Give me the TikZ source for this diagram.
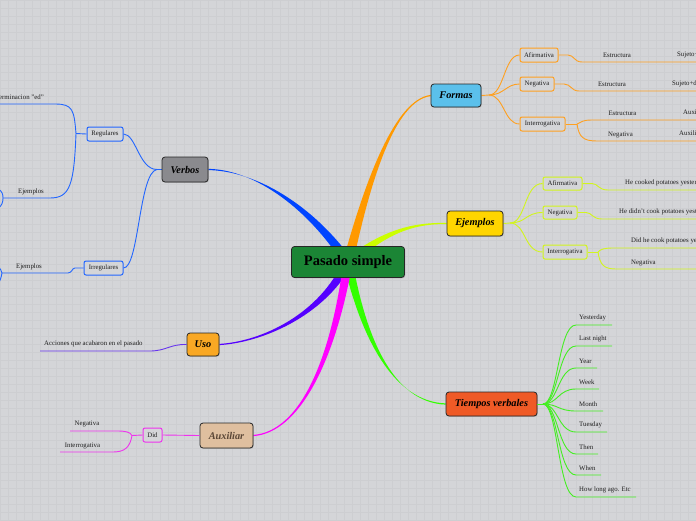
\documentclass[tikz,border=0pt]{standalone}
\usepackage{fontspec}
\setmainfont{Liberation Serif}
\usetikzlibrary{calc,shadows}
\pgfdeclarelayer{bglayer}
\pgfdeclarelayer{branchlayer}
\pgfsetlayers{bglayer,branchlayer,main}
\definecolor{bg}{HTML}{D4D5D8}
\definecolor{gridc}{HTML}{CDCED1}
\definecolor{cforma}{HTML}{FF9900}
\definecolor{cforsub}{HTML}{FFA020}
\definecolor{cejem}{HTML}{CCFF00}
\definecolor{cejsub}{HTML}{D2F51E}
\definecolor{ctiem}{HTML}{33FF00}
\definecolor{ctisub}{HTML}{44EE22}
\definecolor{cverb}{HTML}{0044FF}
\definecolor{cvesub}{HTML}{2266FF}
\definecolor{cuso}{HTML}{5500FF}
\definecolor{cusub}{HTML}{6633EE}
\definecolor{caux}{HTML}{FF00FF}
\definecolor{causub}{HTML}{EE33EE}
\definecolor{txt}{HTML}{1E1E1E}
\definecolor{frootc}{HTML}{1B8535}
\definecolor{fformc}{HTML}{5BC0EB}
\definecolor{fejemc}{HTML}{FFD500}
\definecolor{ftiemc}{HTML}{EF5A26}
\definecolor{fverbc}{HTML}{8A8A8E}
\definecolor{fusoc}{HTML}{F9A824}
\definecolor{fauxc}{HTML}{DFBF9F}
\definecolor{tauxc}{HTML}{5A4636}
\newcommand\taper[7]{\fill[#1] ($#2+#6$) .. controls ($#3+0.5*#6$) and ($#4+#7$) .. ($#5+#7$) -- ($#5-#7$) .. controls ($#4-#7$) and ($#3-0.5*#6$) .. ($#2-#6$) -- cycle;}
\tikzset{
  mainbox/.style={draw=black!85, line width=0.8pt, rounded corners=3pt, inner sep=0pt,
    font=\bfseries\itshape\fontsize{10.3}{12}\selectfont, text=black,
    drop shadow={opacity=0.35, shadow xshift=0.8pt, shadow yshift=-0.8pt}},
  subbox/.style={draw, line width=1pt, rounded corners=2pt, inner sep=0pt, fill=bg,
    font=\fontsize{6.8}{8}\selectfont, text=txt},
  leaf/.style={inner sep=0pt, font=\fontsize{6.8}{8}\selectfont, text=txt},
  conn/.style={line width=0.9pt},
}
\begin{document}
\begin{tikzpicture}[x=1pt,y=-1pt]
\useasboundingbox (0,0) rectangle (696,520);
\clip (0,0) rectangle (696,520);
\begin{pgfonlayer}{bglayer}
\fill[bg] (0,0) rectangle (696,520);
\draw[gridc, line width=0.25pt, step=8pt] (0,0) grid (696,520);
\end{pgfonlayer}

% ---- central and main nodes ----
\node[mainbox, fill=frootc, minimum width=113pt, minimum height=31pt, font=\bfseries\fontsize{14.5}{16}\selectfont] (root) at (348,262) {Pasado simple};
\node[mainbox, fill=fformc, minimum width=50pt, minimum height=23pt] (formas) at (456,95.5) {Formas};
\node[mainbox, fill=fejemc, minimum width=56pt, minimum height=25pt] (ejemplos) at (475,223.5) {Ejemplos};
\node[mainbox, fill=ftiemc, minimum width=91pt, minimum height=24pt] (tiempos) at (491.5,404) {Tiempos verbales};
\node[mainbox, fill=fverbc, minimum width=46pt, minimum height=25pt] (verbos) at (185,169.5) {Verbos};
\node[mainbox, fill=fusoc, minimum width=32pt, minimum height=23pt] (uso) at (203,344.5) {Uso};
\node[mainbox, fill=fauxc, minimum width=53pt, minimum height=25pt, text=tauxc] (auxiliar) at (226.5,435.5) {Auxiliar};

% ---- tapered main branches ----
\begin{pgfonlayer}{branchlayer}
\taper{cforma}{(root.center)}{(368,180)}{(395,100)}{(formas.west)}{(5,1)}{(0,0.6)}
\taper{cejem}{(root.center)}{(385,232)}{(412,223)}{(ejemplos.west)}{(1.5,4.5)}{(0,0.6)}
\taper{ctiem}{(root.center)}{(363,335)}{(392,402)}{(tiempos.west)}{(4.5,-1)}{(0,0.6)}
\taper{cverb}{(root.center)}{(305,200)}{(250,170)}{(verbos.east)}{(3.5,-3.5)}{(0,0.6)}
\taper{cuso}{(root.center)}{(322,315)}{(262,342)}{(uso.east)}{(4,2.5)}{(0,0.6)}
\taper{caux}{(root.center)}{(333,360)}{(300,432)}{(auxiliar.east)}{(4.5,0.8)}{(0,0.6)}
\end{pgfonlayer}

% ---- Formas ----
\coordinate (fj) at (489,95);
\node[subbox, draw=cforsub, minimum width=38pt, minimum height=14pt] (fa) at (539,55) {Afirmativa};
\node[subbox, draw=cforsub, minimum width=34pt, minimum height=14pt] (fn) at (537,84) {Negativa};
\node[subbox, draw=cforsub, minimum width=45pt, minimum height=14pt] (fi) at (542.5,124) {Interrogativa};
\begin{pgfonlayer}{branchlayer}
\draw[conn, cforsub] (formas.east) -- (fj);
\draw[conn, cforsub] (fj) .. controls (504,95) and (504,55) .. (fa.west);
\draw[conn, cforsub] (fj) .. controls (504,95) and (506,84) .. (fn.west);
\draw[conn, cforsub] (fj) .. controls (504,95) and (504,124) .. (fi.west);
\end{pgfonlayer}
\coordinate (fae) at (700,62);
\coordinate (fne) at (700,91);
\coordinate (fij) at (577,124);
\coordinate (fi1e) at (700,120);
\coordinate (fi2e) at (700,141);
\draw[conn, cforsub] (fa.east) -- (568,55) .. controls (574,55) and (574,62) .. (582,62) -- (fae);
\draw[conn, cforsub] (fn.east) -- (564,84) .. controls (571,84) and (571,91) .. (579,91) -- (fne);
\draw[conn, cforsub] (fi.east) -- (fij);
\draw[conn, cforsub] (fij) .. controls (582,122) and (582,120) .. (592,120) -- (fi1e);
\draw[conn, cforsub] (fij) .. controls (579,137) and (583,141) .. (597,141) -- (fi2e);
\node[leaf] (fa1) at (617,55) {Estructura};
\node[leaf, anchor=west] (fa2) at (677,55) {Sujeto+verbo en pasado};
\node[leaf] (fn1) at (612,84) {Estructura};
\node[leaf, anchor=west] (fn2) at (672,84) {Sujeto+did not+verbo};
\node[leaf] (fi1) at (622.5,113) {Estructura};
\node[leaf, anchor=west] (fi1b) at (683,113) {Auxiliar+sujeto+verbo};
\node[leaf] (fi2) at (620.5,135) {Negativa};
\node[leaf, anchor=west] (fi2b) at (679,134) {Auxiliar+not+sujeto};

% ---- Ejemplos ----
\coordinate (ej) at (510,223);
\node[subbox, draw=cejsub, minimum width=39pt, minimum height=13pt] (ea) at (562.5,183.5) {Afirmativa};
\node[subbox, draw=cejsub, minimum width=34pt, minimum height=13pt] (en) at (560,212.5) {Negativa};
\node[subbox, draw=cejsub, minimum width=44pt, minimum height=14pt] (ei) at (565,252) {Interrogativa};
\begin{pgfonlayer}{branchlayer}
\draw[conn, cejsub] (ejemplos.east) -- (ej);
\draw[conn, cejsub] (ej) .. controls (526,223) and (524,183.5) .. (ea.west);
\draw[conn, cejsub] (ej) .. controls (526,223) and (526,212.5) .. (en.west);
\draw[conn, cejsub] (ej) .. controls (526,223) and (524,252) .. (ei.west);
\end{pgfonlayer}
\coordinate (eae) at (700,190);
\coordinate (ene) at (700,219);
\coordinate (eij) at (598,252);
\coordinate (ei1e) at (700,248);
\coordinate (ei2e) at (700,269);
\draw[conn, cejsub] (ea.east) -- (592,183.5) .. controls (598,183.5) and (598,190) .. (608,190) -- (eae);
\draw[conn, cejsub] (en.east) -- (586,212.5) .. controls (592,212.5) and (592,219) .. (602,219) -- (ene);
\draw[conn, cejsub] (ei.east) -- (eij);
\draw[conn, cejsub] (eij) .. controls (601,249) and (604,248) .. (614,248) -- (ei1e);
\draw[conn, cejsub] (eij) .. controls (600,265) and (604,269) .. (616,269) -- (ei2e);
\node[leaf, anchor=west] (ea1) at (625,183) {He cooked potatoes yesterday};
\node[leaf, anchor=west] (en1) at (619,212) {He didn't cook potatoes yesterday};
\node[leaf, anchor=west] (ei1) at (631,241) {Did he cook potatoes yesterday?};
\node[leaf, anchor=west] (ei2) at (631,263) {Negativa};

% ---- Tiempos verbales ----
\coordinate (tj) at (543,404);
\draw[conn, ctisub] (tiempos.east) -- (tj);
\foreach \n/\t/\l/\e [count=\i] in {Yesterday/318/325/612, Last night/339/346/612, Year/361/368/597, Week/382/389/599, Month/404/411/603, Tuesday/425/432/607, Then/447/454/598, When/468/475/601, How long ago. Etc/490/497/636}{
  \node[leaf, anchor=west] (t\i) at (579,\t) {\n};
  \coordinate (t\i s) at (576,\l);
  \coordinate (t\i e) at (\e,\l);
  \draw[conn, ctisub] (tj) .. controls (558,404) and (558,\l) .. (t\i s) -- (t\i e);
}

% ---- Verbos ----
\coordinate (vj) at (157,169.5);
\node[subbox, draw=cvesub, minimum width=36pt, minimum height=14pt] (vr) at (105,134) {Regulares};
\node[subbox, draw=cvesub, minimum width=39pt, minimum height=14pt] (vi) at (103.5,268) {Irregulares};
\begin{pgfonlayer}{branchlayer}
\draw[conn, cvesub] (verbos.west) -- (vj);
\draw[conn, cvesub] (vr.east) .. controls (136,134) and (139,169.5) .. (vj);
\draw[conn, cvesub] (vi.east) .. controls (139,268) and (139,172) .. (vj);
\end{pgfonlayer}
\coordinate (vrj) at (76,133.5);
\coordinate (vr1e) at (-5,104);
\coordinate (vr2j) at (3,198);
\draw[conn, cvesub] (vr.west) -- (vrj);
\draw[conn, cvesub] (vrj) .. controls (74,110) and (73,104) .. (55,104) -- (vr1e);
\draw[conn, cvesub] (vrj) .. controls (74,185) and (70,198) .. (50,198) -- (vr2j);
\draw[conn, cvesub] (vr2j) .. controls (3,194) and (2,191) .. (-2,189);
\draw[conn, cvesub] (vr2j) .. controls (3,202) and (2,206) .. (-2,208);
\node[leaf, anchor=east] (vr1) at (44,97) {Terminacion "ed"};
\node[leaf] (vr2) at (31,192) {Ejemplos};
\coordinate (vij) at (2,273);
\draw[conn, cvesub] (vi.west) -- (75,268) .. controls (72,268) and (72,273) .. (68,273) -- (vij);
\draw[conn, cvesub] (vij) .. controls (1,270) .. (-2,266);
\draw[conn, cvesub] (vij) .. controls (1,278) .. (-2,285);
\node[leaf] (vi1) at (29,267) {Ejemplos};

% ---- Uso ----
\coordinate (u1e) at (40,351);
\draw[conn, cusub] (uso.west) .. controls (170,344) and (166,351) .. (150,351) -- (u1e);
\node[leaf, anchor=west] (u1) at (44,344) {Acciones que acabaron en el pasado};

% ---- Auxiliar ----
\node[subbox, draw=causub, minimum width=19pt, minimum height=14pt] (did) at (152.5,435) {Did};
\draw[conn, causub] (auxiliar.west) -- (did.east);
\coordinate (dj) at (132,435.5);
\coordinate (d1e) at (70,431);
\coordinate (d2e) at (60,452);
\draw[conn, causub] (did.west) -- (dj);
\draw[conn, causub] (dj) .. controls (130,432) and (126,431) .. (117,431) -- (d1e);
\draw[conn, causub] (dj) .. controls (130,447) and (125,452) .. (113,452) -- (d2e);
\node[leaf] (d1) at (87,424) {Negativa};
\node[leaf] (d2) at (82.5,446) {Interrogativa};
\end{tikzpicture}
\end{document}
